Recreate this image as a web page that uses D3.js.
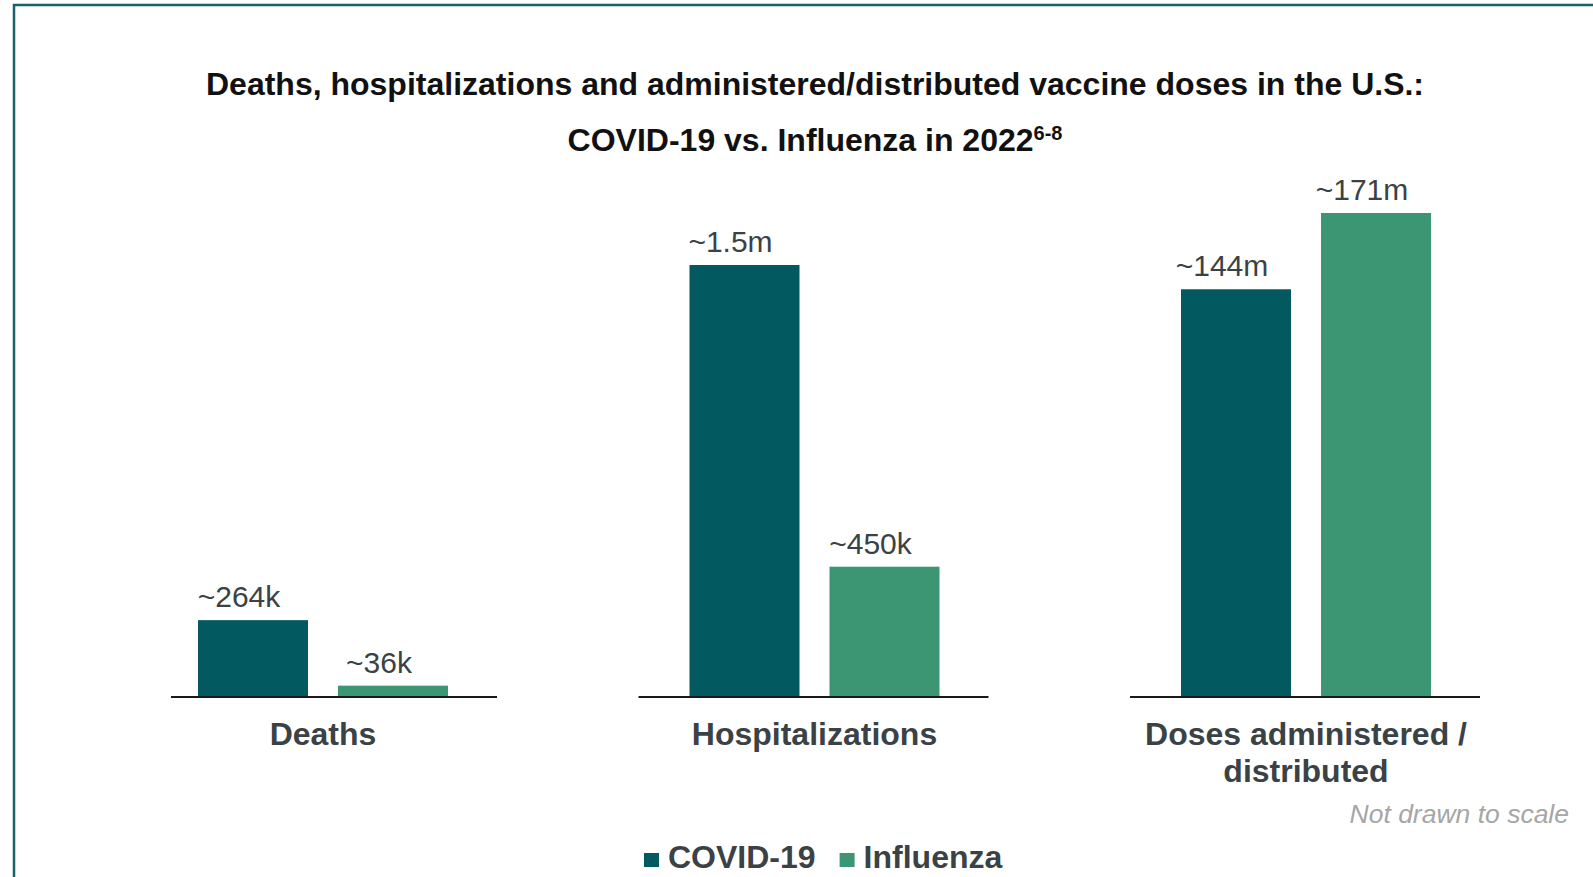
<!DOCTYPE html>
<html>
<head>
<meta charset="utf-8">
<script src="https://cdn.jsdelivr.net/npm/d3@7"></script>
<style>
  html, body { margin: 0; padding: 0; background: #fff; }
  svg { display: block; font-family: "Liberation Sans", Arial, sans-serif; }
</style>
</head>
<body>
<svg id="chart" width="1593" height="877"></svg>
<script>
// ------------------------------------------------------
// DATA
// ------------------------------------------------------
var categories = ["Deaths", "Hospitalizations", "Doses"];
var categoryLabels = [["Deaths"], ["Hospitalizations"], ["Doses administered /", "distributed"]];
var categoryUnit = ["people", "people", "doses"];
var series = ["COVID-19", "Influenza"];
var covidValues = [264000, 1500000, 144000000];
var fluValues = [36000, 450000, 171000000];
var covidLabels = ["~264k", "~1.5m", "~144m"];
var fluLabels = ["~36k", "~450k", "~171m"];

var colors = { "COVID-19": "#025a60", "Influenza": "#3d9673" };
var textColor = "#3b4245";

var svg = d3.select("#chart");
var baseline = 696;

// frame
svg.append("path")
    .attr("d", "M14,877 L14,5 L1600,5")
    .attr("fill", "none")
    .attr("stroke", "#136369")
    .attr("stroke-width", 2.5);

// title
var title = svg.append("text")
    .attr("text-anchor", "middle")
    .attr("font-weight", "bold")
    .attr("fill", "#111");
title.append("tspan")
    .attr("x", 815).attr("y", 95)
    .attr("font-size", 32)
    .text("Deaths, hospitalizations and administered/distributed vaccine doses in the U.S.:");
title.append("tspan")
    .attr("x", 815).attr("y", 151)
    .attr("font-size", 32)
    .text("COVID-19 vs. Influenza in 2022");
title.append("tspan")
    .attr("font-size", 20)
    .attr("dy", -11)
    .text("6-8");

// ------------------------------------------------------
// scales
// ------------------------------------------------------
var x0 = d3.scaleBand()
    .domain(categories)
    .range([77.25, 1551.75]);

var x1 = d3.scaleBand()
    .domain(series)
    .range([0, 250])
    .paddingInner(30 / 140);

// not drawn to scale: people counts and doses use their own scales
var yScales = {
    people: d3.scaleLinear().domain([0, 1500000]).range([0, 431]),
    doses: d3.scaleLinear().domain([0, 171000000]).range([0, 483])
};

var rows = categories.map(function(c, i) {
    return {
        cat: c, unit: categoryUnit[i],
        values: [
            { key: "COVID-19", value: covidValues[i], label: covidLabels[i] },
            { key: "Influenza", value: fluValues[i], label: fluLabels[i] }
        ]
    };
});

var groups = svg.append("g")
    .selectAll("g")
    .data(rows)
    .enter().append("g")
    .attr("transform", function(d) {
        return "translate(" + (x0(d.cat) + x0.bandwidth() / 2 - 125) + ",0)";
    });

// axis line under each group
groups.append("line")
    .attr("x1", function(d, i) { return i === 0 ? -27 : -51; })
    .attr("x2", 299)
    .attr("y1", baseline + 1).attr("y2", baseline + 1)
    .attr("stroke", "#1a1a1a")
    .attr("stroke-width", 2);

groups.selectAll("rect")
    .data(function(d) { return d.values.map(function(v) { v.unit = d.unit; return v; }); })
    .enter().append("rect")
    .attr("x", function(d) { return x1(d.key); })
    .attr("width", x1.bandwidth())
    .attr("y", function(d) { return baseline - yScales[d.unit](d.value); })
    .attr("height", function(d) { return yScales[d.unit](d.value); })
    .attr("fill", function(d) { return colors[d.key]; });

groups.selectAll("text.value")
    .data(function(d) { return d.values; })
    .enter().append("text")
    .attr("class", "value")
    .attr("x", function(d) { return x1(d.key) + x1.bandwidth() / 2 - 14; })
    .attr("y", function(d) { return baseline - yScales[d.unit](d.value) - 13; })
    .attr("text-anchor", "middle")
    .attr("font-size", 30)
    .attr("fill", textColor)
    .text(function(d) { return d.label; });

// category labels
groups.append("text")
    .attr("text-anchor", "middle")
    .attr("font-size", 32)
    .attr("font-weight", "bold")
    .attr("fill", textColor)
    .selectAll("tspan")
    .data(function(d, i) { return categoryLabels[i]; })
    .enter().append("tspan")
    .attr("x", 125)
    .attr("y", function(d, i) { return 745 + i * 37; })
    .text(function(d) { return d; });

// note
svg.append("text")
    .attr("x", 1569).attr("y", 823)
    .attr("text-anchor", "end")
    .attr("font-size", 26.5)
    .attr("font-style", "italic")
    .attr("fill", "#a6a6a6")
    .text("Not drawn to scale");

// legend
var legend = svg.append("g");
var lx = 644;
series.forEach(function(s) {
    legend.append("rect")
        .attr("x", lx).attr("y", 853)
        .attr("width", 15).attr("height", 14)
        .attr("fill", colors[s]);
    var t = legend.append("text")
        .attr("x", lx + 24).attr("y", 868)
        .attr("font-size", 32)
        .attr("font-weight", "bold")
        .attr("fill", textColor)
        .text(s);
    lx += 24 + t.node().getComputedTextLength() + 24;
});
</script>
</body>
</html>
